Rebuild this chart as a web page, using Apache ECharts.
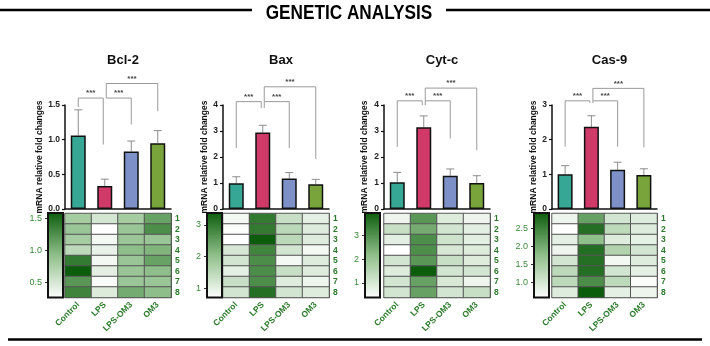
<!DOCTYPE html>
<html>
<head>
<meta charset="utf-8">
<script src="https://cdn.jsdelivr.net/npm/echarts@6/dist/echarts.min.js"></script>
<style>
  html, body { margin: 0; padding: 0; background: #fff; }
  #main { width: 710px; height: 346px; }
</style>
</head>
<body>
<div id="main"></div>
<script>
var groups = ['Control', 'LPS', 'LPS-OM3', 'OM3'];
var samples = ['1', '2', '3', '4', '5', '6', '7', '8'];
var genes = ['Bcl-2', 'Bax', 'Cyt-c', 'Cas-9'];
var yAxisName = 'mRNA relative fold changes';

// bar means and SD (error bar goes up only)
var bcl2Mean = [1.06, 0.33, 0.83, 0.95];
var bcl2Sd = [0.37, 0.10, 0.15, 0.18];
var baxMean = [0.99, 2.94, 1.17, 0.95];
var baxSd = [0.25, 0.28, 0.23, 0.19];
var cytcMean = [1.03, 3.14, 1.28, 1.00];
var cytcSd = [0.38, 0.44, 0.26, 0.28];
var cas9Mean = [1.00, 2.37, 1.13, 0.98];
var cas9Sd = [0.25, 0.32, 0.22, 0.18];

// bar y axis max / step
var bcl2Axis = [1.5, 0.5];
var baxAxis = [4, 1];
var cytcAxis = [4, 1];
var cas9Axis = [3, 1];

// heatmaps, one row per sample (1..8), columns = groups
var bcl2Heat = [
    [0.79, 0.53, 0.79, 1.12],
    [0.86, 0.27, 0.86, 1.25],
    [0.79, 0.34, 0.86, 0.86],
    [0.66, 0.40, 0.93, 0.99],
    [1.38, 0.34, 0.86, 1.12],
    [1.58, 0.43, 0.86, 0.93],
    [1.19, 0.31, 0.86, 0.86],
    [1.32, 0.47, 1.06, 0.93]
];
var baxHeat = [
    [0.85, 2.97, 1.38, 1.04],
    [0.77, 2.97, 1.52, 1.12],
    [0.72, 3.37, 1.52, 1.12],
    [1.20, 2.84, 1.25, 0.85],
    [1.25, 2.71, 0.85, 1.12],
    [1.04, 2.71, 1.38, 1.12],
    [1.38, 2.71, 1.12, 0.93],
    [1.25, 3.11, 1.25, 1.12]
];
var cytcHeat = [
    [0.67, 2.88, 0.92, 0.67],
    [1.28, 2.52, 1.10, 0.82],
    [0.82, 3.05, 1.17, 0.82],
    [0.39, 3.05, 1.03, 0.92],
    [1.10, 2.88, 1.28, 0.92],
    [0.92, 3.94, 1.10, 1.10],
    [1.10, 2.70, 1.03, 0.67],
    [1.10, 2.70, 1.10, 1.28]
];
var cas9Heat = [
    [0.77, 2.10, 1.05, 0.93],
    [0.58, 2.69, 1.28, 0.93],
    [0.86, 1.75, 0.93, 0.86],
    [0.77, 2.69, 1.40, 1.05],
    [1.05, 2.69, 0.70, 0.93],
    [1.28, 2.69, 1.05, 0.86],
    [1.28, 2.34, 1.28, 0.63],
    [0.93, 2.92, 0.86, 0.77]
];

// colour scale range and tick labels
var bcl2Range = [0.27, 1.58];
var baxRange = [0.72, 3.37];
var cytcRange = [0.39, 3.94];
var cas9Range = [0.58, 2.92];
var bcl2CbTicks = [0.5, 1.0, 1.5];
var baxCbTicks = [1, 2, 3];
var cytcCbTicks = [1, 2, 3];
var cas9CbTicks = [1.0, 1.5, 2.0, 2.5];

// significance brackets: [from, to, level, left leg end, right leg end]
var bcl2Brackets = [[0, 1, 1.60, 1.47, 0.93], [1, 2, 1.60, 1.60, 1.22], [1, 3, 1.81, 1.60, 1.41]];
var baxBrackets = [[0, 1, 4.13, 2.35, 3.88], [1, 2, 4.13, 3.88, 2.35], [1, 3, 4.70, 4.13, 1.92]];
var cytcBrackets = [[0, 1, 4.16, 2.39, 3.99], [1, 2, 4.16, 3.99, 2.71], [1, 3, 4.65, 4.16, 2.26]];
var cas9Brackets = [[0, 1, 3.12, 1.80, 3.06], [1, 2, 3.12, 3.06, 1.80], [1, 3, 3.48, 3.12, 1.78]];
var starLabel = '***';

var barColors = ['#37a795', '#cf3a68', '#7d91c8', '#78a43b'];
var heatColors = ['#ffffff', '#8fbf8a', '#0b5c0b'];
var green = '#2a7a2a';
var font = 'Liberation Sans, Arial, sans-serif';

var panels = [
    {mean: bcl2Mean, sd: bcl2Sd, axis: bcl2Axis, heat: bcl2Heat, range: bcl2Range, cbTicks: bcl2CbTicks, brackets: bcl2Brackets, dec: 1, cbDec: 1},
    {mean: baxMean, sd: baxSd, axis: baxAxis, heat: baxHeat, range: baxRange, cbTicks: baxCbTicks, brackets: baxBrackets, dec: 0, cbDec: 0},
    {mean: cytcMean, sd: cytcSd, axis: cytcAxis, heat: cytcHeat, range: cytcRange, cbTicks: cytcCbTicks, brackets: cytcBrackets, dec: 0, cbDec: 0},
    {mean: cas9Mean, sd: cas9Sd, axis: cas9Axis, heat: cas9Heat, range: cas9Range, cbTicks: cas9CbTicks, brackets: cas9Brackets, dec: 0, cbDec: 1}
];

// layout
var plotLeft = [65, 223, 384, 552];
var plotWidth = [106, 106, 106, 105];
var cbLeft = [48, 207, 365, 534];
var nameGaps = [20, 14, 15, 12];
var barTop = 105, barHeight = 104;
var heatTop = 213.5, heatHeight = 84;

function renderErr(params, api) {
    var lo = api.coord([api.value(0), api.value(1)]);
    var hi = api.coord([api.value(0), api.value(2)]);
    var w = 4;
    var st = {stroke: '#8c8c8c', lineWidth: 1};
    return {type: 'group', children: [
        {type: 'line', shape: {x1: lo[0], y1: lo[1], x2: hi[0], y2: hi[1]}, style: st},
        {type: 'line', shape: {x1: hi[0] - w, y1: hi[1], x2: hi[0] + w, y2: hi[1]}, style: st}
    ]};
}

function renderBracket(params, api) {
    var l = api.value(0), r = api.value(1);
    var pl = api.coord([l, api.value(2)]);
    var pr = api.coord([r, api.value(2)]);
    var x1 = pl[0] + (l === 1 ? 1.5 : 0);
    var x2 = pr[0] + (r === 1 ? -1.5 : 0);
    var yT = pl[1];
    var yL = api.coord([l, api.value(3)])[1];
    var yR = api.coord([r, api.value(4)])[1];
    return {type: 'group', children: [
        {type: 'polyline', shape: {points: [[x1, yL], [x1, yT], [x2, yT], [x2, yR]]},
         style: {stroke: '#9a9a9a', lineWidth: 1, fill: 'none'}},
        {type: 'text', style: {text: starLabel, x: (x1 + x2) / 2, y: yT - 1, align: 'center',
         verticalAlign: 'bottom', fill: '#444', font: 'bold 8px ' + font}}
    ]};
}

function renderColorBar(params, api) {
    var top = api.coord([0, api.value(2)]);
    var bot = api.coord([0, api.value(1)]);
    var cs = params.coordSys;
    return {type: 'rect', shape: {x: cs.x, y: top[1], width: cs.width, height: bot[1] - top[1]},
        style: {
            fill: new echarts.graphic.LinearGradient(0, 0, 0, 1, [
                {offset: 0, color: heatColors[2]},
                {offset: 0.5, color: heatColors[1]},
                {offset: 1, color: heatColors[0]}
            ]),
            stroke: '#111', lineWidth: 2
        }};
}

var grid = [], xAxis = [], yAxis = [], series = [], visualMap = [], title = [];

panels.forEach(function (p, i) {
    var g = i * 3;
    grid.push({left: plotLeft[i], top: barTop, width: plotWidth[i], height: barHeight});
    grid.push({left: plotLeft[i], top: heatTop, width: plotWidth[i], height: heatHeight});
    grid.push({left: cbLeft[i], top: heatTop - 0.5, width: 15, height: heatHeight + 0.5});

    title.push({
        text: genes[i], left: plotLeft[i] + plotWidth[i] / 2, top: 49, textAlign: 'center',
        textStyle: {fontSize: 13, fontWeight: 'bold', color: '#111', fontFamily: font}
    });

    // bar chart axes
    xAxis.push({
        type: 'category', gridIndex: g, data: groups,
        axisLine: {lineStyle: {color: '#111', width: 1.5}},
        axisTick: {alignWithLabel: true, length: 4, lineStyle: {color: '#111', width: 1.2}},
        axisLabel: {show: false}
    });
    yAxis.push({
        type: 'value', gridIndex: g, min: 0, max: p.axis[0], interval: p.axis[1],
        name: yAxisName, nameLocation: 'middle', nameGap: nameGaps[i], nameRotate: 90,
        nameTextStyle: {fontSize: 8.5, fontWeight: 'bold', color: '#111', fontFamily: font},
        axisLine: {show: true, lineStyle: {color: '#111', width: 1.5}},
        axisTick: {show: true, length: 3, lineStyle: {color: '#111', width: 1.2}},
        axisLabel: {fontSize: 8.5, fontWeight: 'bold', color: '#222', margin: 5, fontFamily: font,
            formatter: function (v) { return v.toFixed(p.dec); }},
        splitLine: {show: false}
    });

    // heatmap axes
    xAxis.push({
        type: 'category', gridIndex: g + 1, data: groups, position: 'bottom',
        axisLine: {lineStyle: {color: '#444', width: 1}},
        axisTick: {alignWithLabel: true, length: 4, lineStyle: {color: '#333', width: 1.2}},
        axisLabel: {interval: 0, rotate: 45, margin: 6, fontSize: 8.5, fontWeight: 'bold', color: green, fontFamily: font}
    });
    yAxis.push({
        type: 'category', gridIndex: g + 1, data: samples, inverse: true, position: 'right',
        axisLine: {lineStyle: {color: '#444', width: 1}},
        axisTick: {alignWithLabel: true, length: 3, lineStyle: {color: '#333', width: 1.2}},
        axisLabel: {interval: 0, margin: 4, fontSize: 8.5, fontWeight: 'bold', color: green, fontFamily: font}
    });

    // colour bar axes
    xAxis.push({type: 'value', gridIndex: g + 2, min: 0, max: 1, show: false});
    yAxis.push({
        type: 'value', gridIndex: g + 2, min: p.range[0], max: p.range[1], position: 'left',
        axisLine: {show: false},
        axisTick: {show: true, length: 3, customValues: p.cbTicks, lineStyle: {color: '#333'}},
        axisLabel: {customValues: p.cbTicks, margin: 6, fontSize: 9, color: '#3a8a3a', fontFamily: font,
            formatter: function (v) { return v.toFixed(p.cbDec); }},
        splitLine: {show: false}
    });

    series.push({
        type: 'custom', xAxisIndex: g, yAxisIndex: g, renderItem: renderErr, z: 1,
        data: p.mean.map(function (m, k) { return [k, m, m + p.sd[k]]; })
    });
    series.push({
        type: 'bar', xAxisIndex: g, yAxisIndex: g, barWidth: 15, z: 3,
        data: p.mean.map(function (m, k) {
            return {value: m, itemStyle: {color: barColors[k], borderColor: '#111', borderWidth: 1.5}};
        })
    });
    series.push({
        type: 'custom', xAxisIndex: g, yAxisIndex: g, renderItem: renderBracket, clip: false, z: 2,
        data: p.brackets
    });
    var cells = [];
    p.heat.forEach(function (row, r) {
        row.forEach(function (v, c) { cells.push([c, r, v]); });
    });
    series.push({
        type: 'heatmap', xAxisIndex: g + 1, yAxisIndex: g + 1, data: cells,
        itemStyle: {borderColor: '#555', borderWidth: 1}
    });
    visualMap.push({
        type: 'continuous', show: false, seriesIndex: series.length - 1,
        min: p.range[0], max: p.range[1], inRange: {color: heatColors}
    });
    series.push({
        type: 'custom', xAxisIndex: g + 2, yAxisIndex: g + 2, renderItem: renderColorBar,
        data: [[0, p.range[0], p.range[1]]]
    });
});

var chart = echarts.init(document.getElementById('main'));
chart.setOption({
    animation: false,
    backgroundColor: '#fff',
    textStyle: {fontFamily: font},
    title: title,
    grid: grid,
    xAxis: xAxis,
    yAxis: yAxis,
    visualMap: visualMap,
    series: series,
    graphic: [
        {type: 'line', shape: {x1: 0, y1: 10, x2: 252, y2: 10}, style: {stroke: '#000', lineWidth: 2.5}},
        {type: 'line', shape: {x1: 446, y1: 10, x2: 710, y2: 10}, style: {stroke: '#000', lineWidth: 2.5}},
        {type: 'text', x: 349, y: 13, scaleX: 0.86,
         style: {text: 'GENETIC ANALYSIS', align: 'center', verticalAlign: 'middle',
                 font: 'bold 20px ' + font, fill: '#000'}},
        {type: 'line', shape: {x1: 8, y1: 339.5, x2: 702, y2: 339.5}, style: {stroke: '#000', lineWidth: 2.5}}
    ]
});
</script>
</body>
</html>
